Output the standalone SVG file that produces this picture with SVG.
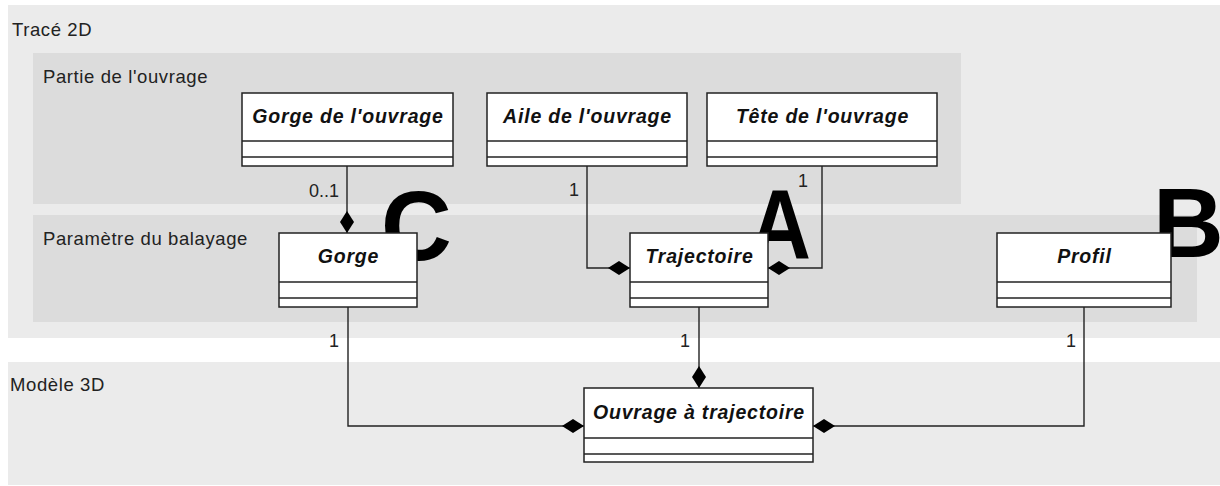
<svg xmlns="http://www.w3.org/2000/svg" width="1220" height="486" viewBox="0 0 1220 486">
<style>
.outer{fill:#ebebeb}
.inner{fill:#dcdcdc}
.plabel{font-family:"Liberation Sans",Arial,sans-serif;font-size:18.5px;letter-spacing:0.6px;fill:#222}
.mult{font-family:"Liberation Sans",Arial,sans-serif;font-size:18px;fill:#222}
.big{font-family:"Liberation Sans",Arial,sans-serif;font-size:98px;font-weight:bold;fill:#000}
.box{fill:#fff;stroke:#222;stroke-width:1.5}
.sep{stroke:#222;stroke-width:1.5}
.title{font-family:"Liberation Sans",Arial,sans-serif;font-size:19.5px;letter-spacing:0.8px;font-weight:bold;font-style:italic;fill:#111;text-anchor:middle}
.conn{fill:none;stroke:#222;stroke-width:1.4}
</style>
<defs>
<marker id="dia" markerUnits="userSpaceOnUse" markerWidth="24" markerHeight="16" viewBox="-1 -8 24 16" refX="22" refY="0" orient="auto">
<path d="M0,0 L11,-7 L22,0 L11,7 Z" fill="#000"/>
</marker>
</defs>
<rect width="1220" height="486" fill="#fff"/>
<g id="pkg-trace2d">
<rect class="outer" x="8" y="5" width="1212" height="333"/>
<text class="plabel" x="12" y="36">Tracé 2D</text>
</g>
<g id="pkg-partie">
<rect class="inner" x="33" y="53" width="928" height="151"/>
<text class="plabel" x="43" y="83">Partie de l'ouvrage</text>
</g>
<g id="pkg-parametre">
<rect class="inner" x="33" y="215" width="1164" height="107"/>
<text class="plabel" x="43" y="245">Paramètre du balayage</text>
</g>
<g id="pkg-modele3d">
<rect class="outer" x="8" y="362" width="1212" height="123"/>
<text class="plabel" x="10" y="391">Modèle 3D</text>
</g>
<g id="letters">
<text class="big" x="381" y="260">C</text>
<text class="big" x="749" y="258" textLength="62" lengthAdjust="spacingAndGlyphs">A</text>
<text class="big" x="1153" y="257">B</text>
</g>
<g id="connectors">
<path class="conn" d="M347,166 V233" marker-end="url(#dia)"/>
<path class="conn" d="M587,166 V268 H630" marker-end="url(#dia)"/>
<path class="conn" d="M822,166 V268 H768" marker-end="url(#dia)"/>
<path class="conn" d="M348,307 V426 H584" marker-end="url(#dia)"/>
<path class="conn" d="M699,307 V388" marker-end="url(#dia)"/>
<path class="conn" d="M1084,307 V426 H813" marker-end="url(#dia)"/>
<text class="mult" x="339" y="197" text-anchor="end">0..1</text>
<text class="mult" x="579" y="196" text-anchor="end">1</text>
<text class="mult" x="808" y="187" text-anchor="end">1</text>
<text class="mult" x="339" y="347" text-anchor="end">1</text>
<text class="mult" x="690" y="347" text-anchor="end">1</text>
<text class="mult" x="1076" y="347" text-anchor="end">1</text>
</g>
<g id="node-gorge-ouvrage">
<rect class="box" x="242" y="93" width="211" height="73"/>
<line class="sep" x1="242" y1="141" x2="453" y2="141"/>
<line class="sep" x1="242" y1="157" x2="453" y2="157"/>
<text class="title" x="348" y="123">Gorge de l'ouvrage</text>
</g>
<g id="node-aile-ouvrage">
<rect class="box" x="487" y="93" width="200" height="73"/>
<line class="sep" x1="487" y1="141" x2="687" y2="141"/>
<line class="sep" x1="487" y1="157" x2="687" y2="157"/>
<text class="title" x="587.5" y="123">Aile de l'ouvrage</text>
</g>
<g id="node-tete-ouvrage">
<rect class="box" x="707" y="93" width="230" height="73"/>
<line class="sep" x1="707" y1="141" x2="937" y2="141"/>
<line class="sep" x1="707" y1="157" x2="937" y2="157"/>
<text class="title" x="822.5" y="123">Tête de l'ouvrage</text>
</g>
<g id="node-gorge">
<rect class="box" x="279" y="233" width="138" height="74"/>
<line class="sep" x1="279" y1="282" x2="417" y2="282"/>
<line class="sep" x1="279" y1="298" x2="417" y2="298"/>
<text class="title" x="348.5" y="263">Gorge</text>
</g>
<g id="node-trajectoire">
<rect class="box" x="630" y="233" width="138" height="74"/>
<line class="sep" x1="630" y1="282" x2="768" y2="282"/>
<line class="sep" x1="630" y1="298" x2="768" y2="298"/>
<text class="title" x="699.5" y="263">Trajectoire</text>
</g>
<g id="node-profil">
<rect class="box" x="997" y="233" width="174" height="74"/>
<line class="sep" x1="997" y1="282" x2="1171" y2="282"/>
<line class="sep" x1="997" y1="298" x2="1171" y2="298"/>
<text class="title" x="1084.5" y="263">Profil</text>
</g>
<g id="node-ouvrage-trajectoire">
<rect class="box" x="584" y="388" width="229" height="74"/>
<line class="sep" x1="584" y1="438" x2="813" y2="438"/>
<line class="sep" x1="584" y1="454" x2="813" y2="454"/>
<text class="title" x="699" y="419">Ouvrage à trajectoire</text>
</g>
</svg>
